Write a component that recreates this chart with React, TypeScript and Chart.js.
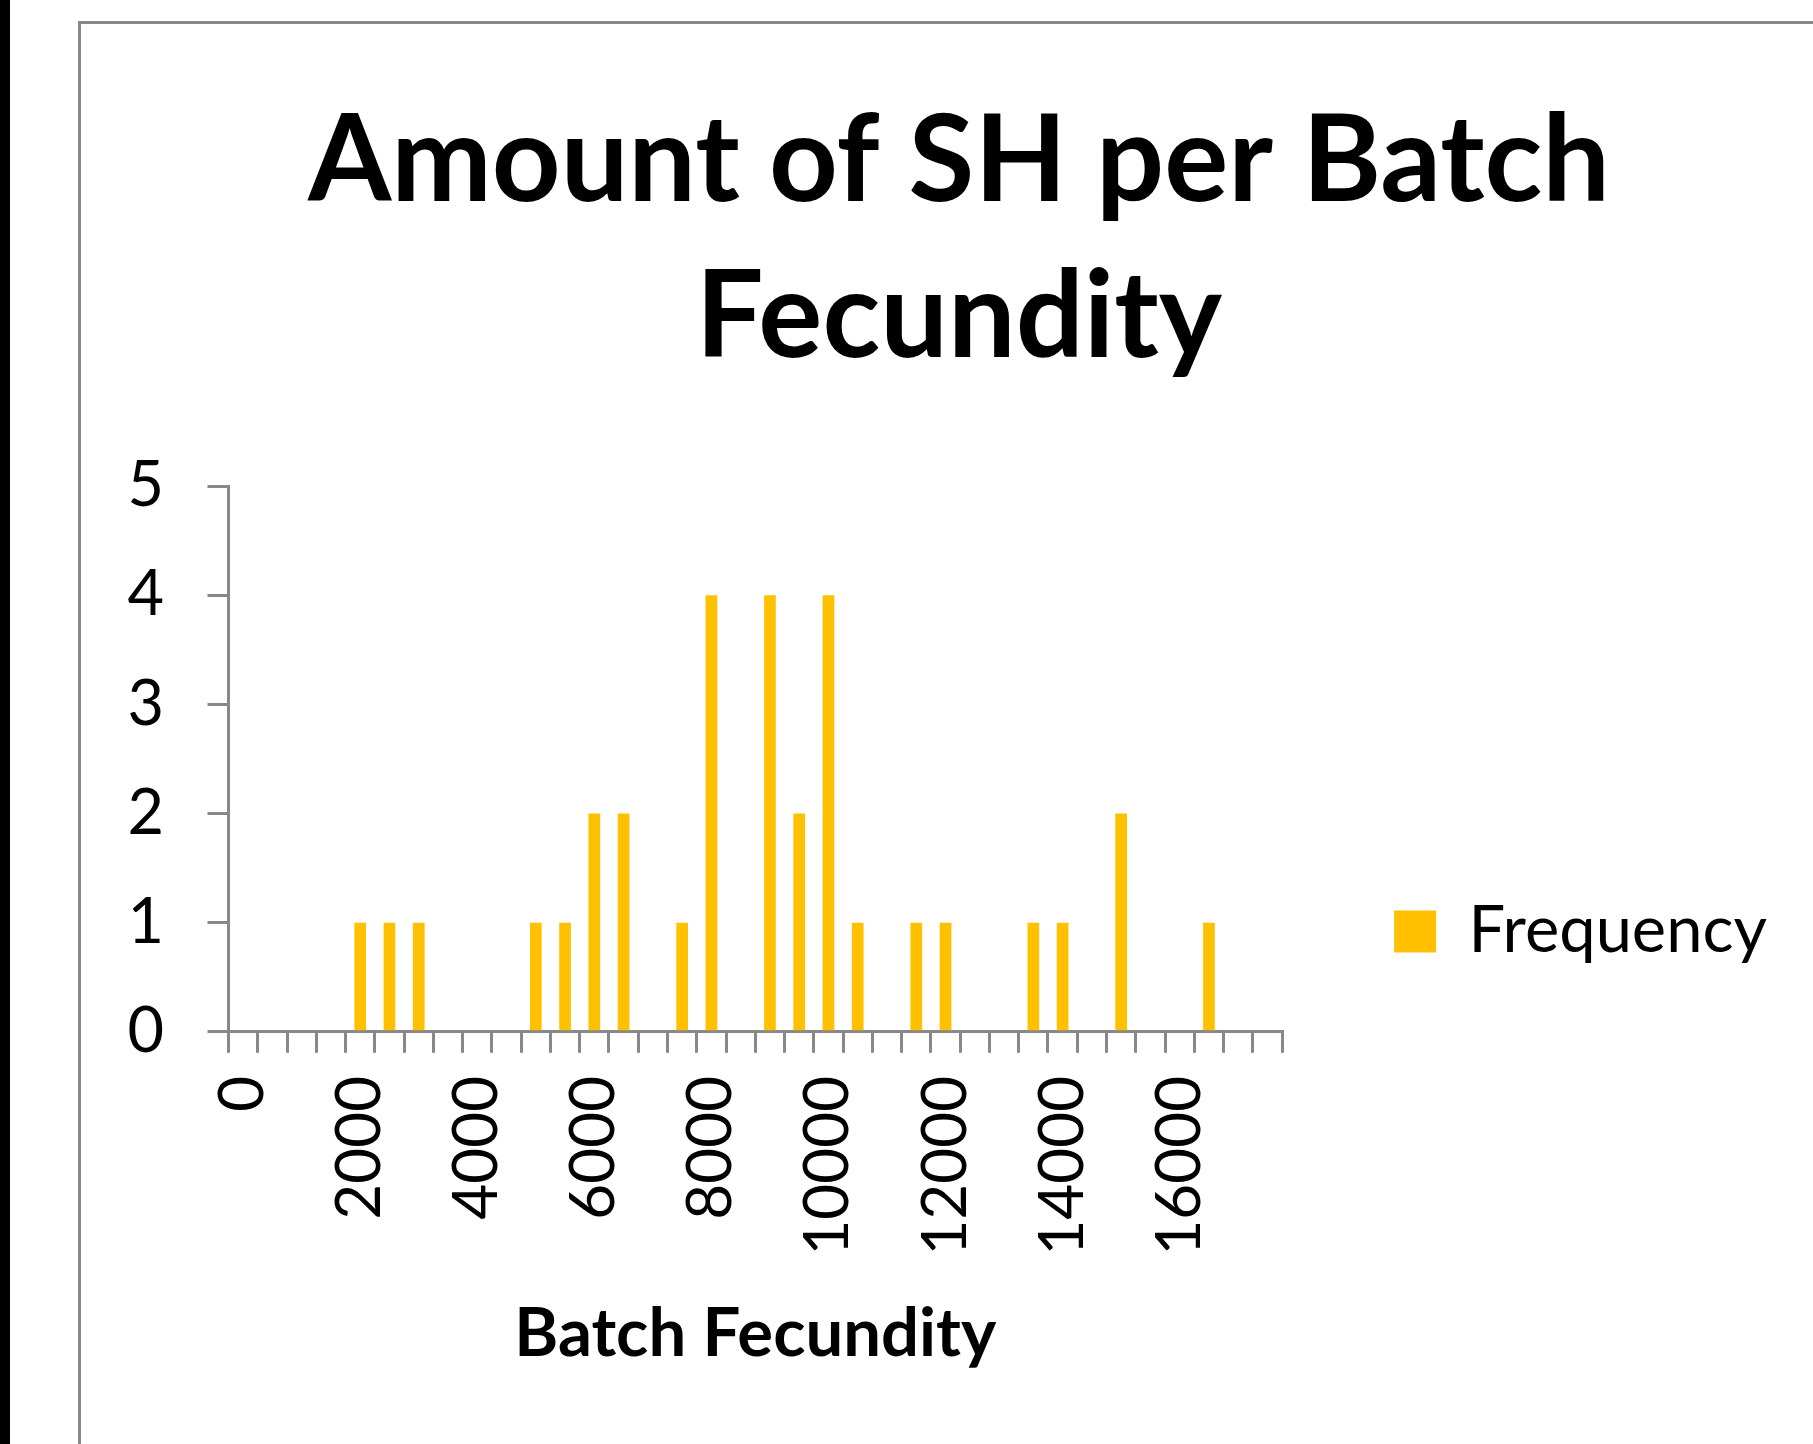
import React, { useEffect, useRef } from 'react';
import { Chart, registerables } from 'chart.js';

Chart.register(...registerables);

// ---- data ----
const binLabels = ['0', '500', '1000', '1500', '2000', '2500', '3000', '3500', '4000', '4500', '5000', '5500', '6000', '6500', '7000', '7500', '8000', '8500', '9000', '9500', '10000', '10500', '11000', '11500', '12000', '12500', '13000', '13500', '14000', '14500', '15000', '15500', '16000', '16500', '17000', '17500'];
const frequency = [0, 0, 0, 0, 1, 1, 1, 0, 0, 0, 1, 1, 2, 2, 0, 1, 4, 0, 4, 2, 4, 1, 0, 1, 1, 0, 0, 1, 1, 0, 2, 0, 0, 1, 0, 0];
const shownTickLabels = ['0', '2000', '4000', '6000', '8000', '10000', '12000', '14000', '16000'];
const yTickValues = [0, 1, 2, 3, 4, 5];
const titleLines = ['Amount of SH per Batch', 'Fecundity'];
const xAxisTitle = 'Batch Fecundity';
const seriesName = 'Frequency';

const FONT = 'Lato, Calibri, Carlito, "Open Sans", sans-serif';
const AXIS_GREY = '#888888';
const BAR_GOLD = '#FFC000';

const framePlugin = {
  id: 'excelFrame',
  beforeDraw(chart: any) {
    const { ctx, width, height } = chart;
    ctx.save();
    ctx.fillStyle = '#ffffff';
    ctx.fillRect(0, 0, width, height);
    ctx.strokeStyle = AXIS_GREY;
    ctx.lineWidth = 3;
    ctx.strokeRect(1.5, 1.5, width - 3, height - 3);
    ctx.restore();
  },
};

export default function App() {
  const ref = useRef<HTMLCanvasElement>(null);

  useEffect(() => {
    const canvas = ref.current;
    if (!canvas) return;
    const chart = new Chart(canvas, {
      type: 'bar',
      data: {
        labels: binLabels,
        datasets: [
          {
            label: seriesName,
            data: frequency,
            backgroundColor: BAR_GOLD,
            borderWidth: 0,
            barPercentage: 0.4,
            categoryPercentage: 1.0,
          },
        ],
      },
      options: {
        responsive: false,
        animation: false,
        devicePixelRatio: 1,
        color: '#000',
        layout: { padding: { left: 63, right: 63, top: 20, bottom: 20 } },
        plugins: {
          tooltip: { enabled: false },
          title: {
            display: true,
            text: titleLines,
            color: '#000',
            font: { family: FONT, size: 120, weight: 'bold', lineHeight: 1.3 },
            padding: { top: 43, bottom: 90 },
          },
          legend: {
            display: true,
            position: 'right',
            maxWidth: 700,
            labels: {
              color: '#000',
              font: { family: FONT, size: 65 },
              boxWidth: 42,
              boxHeight: 42,
              padding: 112,
            },
          },
        },
        scales: {
          x: {
            type: 'category',
            offset: true,
            grid: {
              display: true,
              offset: true,
              drawOnChartArea: false,
              drawTicks: true,
              tickLength: 21,
              color: AXIS_GREY,
              lineWidth: 3,
            },
            border: { display: true, color: AXIS_GREY, width: 3 },
            ticks: {
              autoSkip: false,
              minRotation: 90,
              maxRotation: 90,
              padding: 23,
              color: '#000',
              font: { family: FONT, size: 62 },
              callback: (_v: any, i: number) =>
                shownTickLabels.includes(binLabels[i]) ? binLabels[i] : '',
            },
            title: {
              display: true,
              text: xAxisTitle,
              color: '#000',
              font: { family: FONT, size: 67, weight: 'bold', lineHeight: 1.2 },
              padding: { top: 16, bottom: 447 },
            },
          },
          y: {
            min: yTickValues[0],
            max: yTickValues[yTickValues.length - 1],
            afterFit: (scale: any) => {
              scale.width = 87.5;
            },
            grid: {
              display: true,
              drawOnChartArea: false,
              drawTicks: true,
              tickLength: 21,
              color: AXIS_GREY,
              lineWidth: 3,
            },
            border: { display: true, color: AXIS_GREY, width: 3 },
            ticks: {
              stepSize: 1,
              mirror: true,
              padding: -101,
              color: '#000',
              font: { family: FONT, size: 63 },
            },
          },
        },
      },
      plugins: [framePlugin],
    });

    let alive = true;
    const fonts: any = (document as any).fonts;
    if (fonts && fonts.load) {
      Promise.all([fonts.load('bold 120px Lato'), fonts.load('62px Lato')])
        .then(() => {
          if (alive) chart.update();
        })
        .catch(() => {});
    }
    return () => {
      alive = false;
      chart.destroy();
    };
  }, []);

  return (
    <div
      style={{
        position: 'fixed',
        left: 0,
        top: 0,
        width: 1813,
        height: 1444,
        overflow: 'hidden',
        background: '#ffffff',
      }}
    >
      <div style={{ position: 'absolute', left: 0, top: 0, width: 10, height: 1444, background: '#000' }} />
      <canvas
        ref={ref}
        width={1762}
        height={1821}
        style={{ position: 'absolute', left: 78, top: 21, width: 1762, height: 1821, display: 'block' }}
      />
    </div>
  );
}
